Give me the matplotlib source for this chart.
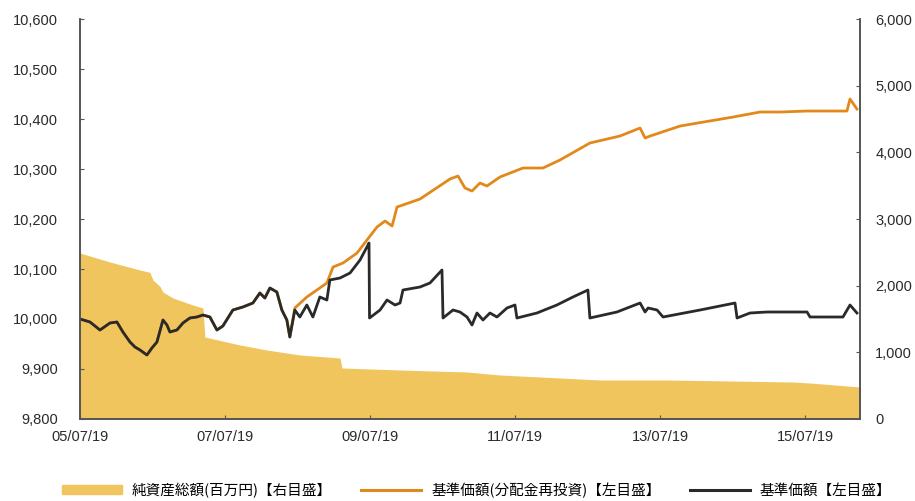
import matplotlib
matplotlib.use("Agg")
import matplotlib.pyplot as plt
import matplotlib.dates as mdates
import matplotlib.ticker as mticker
from matplotlib.patches import Patch
from matplotlib.lines import Line2D
import pandas as pd

plt.rcParams['font.family'] = ['Noto Sans CJK JP', 'DejaVu Sans']

# dates are read off the chart as decimal years (2005.545 = 2005/07/19)
# 基準価額【左目盛】
nav_t = [2005.545, 2005.683, 2005.821, 2005.959, 2006.055, 2006.138, 2006.235, 2006.304,
         2006.373, 2006.469, 2006.538, 2006.607, 2006.690, 2006.745, 2006.786, 2006.883,
         2006.966, 2007.062, 2007.159, 2007.242, 2007.338, 2007.435, 2007.517, 2007.655,
         2007.793, 2007.931, 2008.028, 2008.097, 2008.166, 2008.262, 2008.331, 2008.400,
         2008.441, 2008.510, 2008.579, 2008.676, 2008.759, 2008.855, 2008.952, 2008.993,
         2009.131, 2009.269, 2009.407, 2009.517, 2009.531, 2009.538, 2009.683, 2009.779,
         2009.890, 2009.959, 2010.000, 2010.235, 2010.372, 2010.538, 2010.552, 2010.690,
         2010.786, 2010.883, 2010.952, 2011.021, 2011.104, 2011.200, 2011.297, 2011.435,
         2011.545, 2011.572, 2011.848, 2012.124, 2012.345, 2012.552, 2012.579, 2012.952,
         2013.269, 2013.338, 2013.379, 2013.503, 2013.586, 2014.097, 2014.579, 2014.607,
         2014.786, 2015.021, 2015.573, 2015.614, 2016.069, 2016.166, 2016.262]
nav = [10000, 9994, 9978, 9992, 9994, 9974, 9954, 9944,
       9938, 9928, 9942, 9954, 9998, 9988, 9974, 9978,
       9992, 10002, 10004, 10008, 10004, 9978, 9986, 10018,
       10024, 10032, 10052, 10042, 10062, 10054, 10018, 9998,
       9964, 10018, 10004, 10028, 10004, 10044, 10038, 10078,
       10082, 10092, 10118, 10148, 10152, 10002, 10018, 10038,
       10028, 10032, 10058, 10064, 10072, 10098, 10002, 10018,
       10014, 10004, 9988, 10012, 9998, 10012, 10004, 10022,
       10028, 10002, 10012, 10028, 10044, 10058, 10002, 10014,
       10032, 10014, 10022, 10018, 10004, 10018, 10032, 10002,
       10012, 10014, 10014, 10004, 10004, 10028, 10012]

# 基準価額(分配金再投資)【左目盛】 -- same as 基準価額 until mid-2008
reinv_t = [2008.441, 2008.510, 2008.676, 2008.814, 2008.952, 2009.035, 2009.172, 2009.366,
           2009.503, 2009.641, 2009.752, 2009.849, 2009.917, 2010.235, 2010.648, 2010.759,
           2010.855, 2010.952, 2011.062, 2011.159, 2011.338, 2011.655, 2011.931, 2012.166,
           2012.579, 2012.993, 2013.269, 2013.338, 2013.407, 2013.821, 2014.552, 2014.924,
           2015.200, 2015.573, 2016.124, 2016.166, 2016.262]
reinv = [9964, 10022, 10044, 10058, 10072, 10104, 10112, 10132,
         10158, 10184, 10196, 10186, 10224, 10240, 10280, 10286,
         10262, 10256, 10272, 10266, 10284, 10302, 10302, 10318,
         10352, 10366, 10382, 10362, 10366, 10386, 10404, 10414,
         10414, 10416, 10416, 10440, 10420]

# 純資産総額(百万円)【右目盛】
aum_t = [2005.545, 2005.959, 2006.373, 2006.510, 2006.552, 2006.648, 2006.690, 2006.828,
         2007.104, 2007.242, 2007.269, 2007.752, 2008.124, 2008.579, 2009.131, 2009.159,
         2009.959, 2010.883, 2011.338, 2012.717, 2013.641, 2015.379, 2015.614, 2016.304]
aum = [2490, 2355, 2235, 2200, 2085, 1990, 1905, 1815,
       1710, 1665, 1230, 1110, 1035, 960, 915, 765,
       735, 705, 660, 585, 585, 555, 540, 480]

tick_t = [2005.545, 2007.545, 2009.545, 2011.545, 2013.545, 2015.545]
x_end = 2016.304


def to_date(years):
    out = []
    for y in years:
        base = pd.Timestamp(year=int(y), month=1, day=1)
        out.append(base + pd.Timedelta(days=(y - int(y)) * 365.25))
    return out


nav_idx = nav_t.index(reinv_t[0])
reinv_all_t = nav_t[:nav_idx] + reinv_t
reinv_all = nav[:nav_idx] + reinv

fill_c = '#F0C55E'
orange_c = '#E2891C'
black_c = '#2A2A2A'
spine_c = '#555555'
tick_font = ['Liberation Sans', 'DejaVu Sans']

fig = plt.figure(figsize=(9.15, 5.01), dpi=100)
ax = fig.add_axes([0.0874, 0.1637, 0.8525, 0.7983])
ax2 = ax.twinx()
ax.set_zorder(ax2.get_zorder() + 1)
ax.patch.set_visible(False)

ax2.fill_between(to_date(aum_t), 0, aum, color=fill_c, linewidth=0)
ax.plot(to_date(reinv_all_t), reinv_all, color=orange_c, lw=2.0)
ax.plot(to_date(nav_t), nav, color=black_c, lw=2.0)

ax.set_xlim(to_date([2005.545])[0], to_date([x_end])[0])
ax.set_ylim(9800, 10600)
ax2.set_ylim(0, 6000)
ax.set_yticks(range(9800, 10601, 100))
ax2.set_yticks(range(0, 6001, 1000))
ax.set_xticks(to_date(tick_t))
ax.xaxis.set_major_formatter(mdates.DateFormatter('%y/%m/%d'))
fmt = mticker.FuncFormatter(lambda v, p: f'{int(v):,}')
ax.yaxis.set_major_formatter(fmt)
ax2.yaxis.set_major_formatter(fmt)

for a in (ax, ax2):
    a.spines['top'].set_visible(False)
    for s in ('left', 'right', 'bottom'):
        a.spines[s].set_color(spine_c)
        a.spines[s].set_linewidth(1.2)
    a.tick_params(direction='in', length=3, color=spine_c, labelsize=10.5, labelcolor='#2a2a2a')
    for lab in a.get_xticklabels() + a.get_yticklabels():
        lab.set_family(tick_font)
ax.tick_params(axis='y', pad=16)
ax2.tick_params(axis='y', pad=11)
ax.tick_params(axis='x', pad=8)

handles = [Patch(color=fill_c, label='純資産総額(百万円)【右目盛】'),
           Line2D([], [], color=orange_c, lw=2.2, label='基準価額(分配金再投資)【左目盛】'),
           Line2D([], [], color=black_c, lw=2.2, label='基準価額【左目盛】')]
fig.legend(handles=handles, loc='lower center', bbox_to_anchor=(0.521, -0.02), ncol=3,
           frameon=False, fontsize=10.5, handlelength=4.1, handleheight=0.55, columnspacing=2.0,
           handletextpad=0.7)

fig.savefig('out.png', dpi=100)
